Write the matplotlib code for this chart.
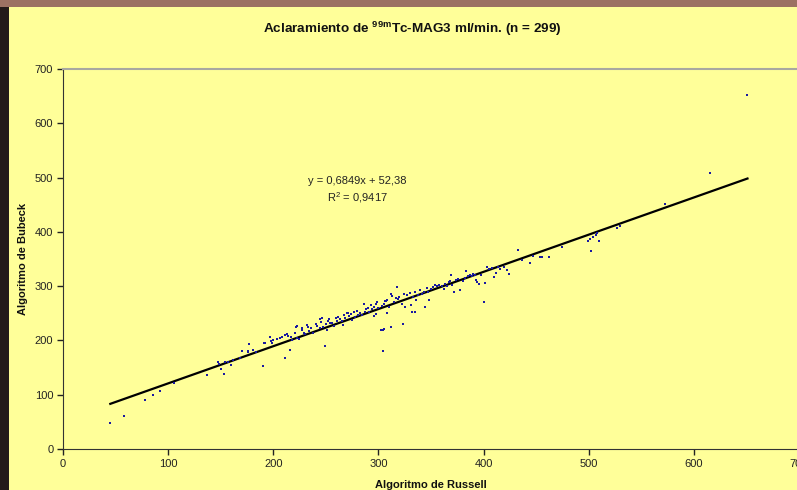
import matplotlib
matplotlib.use('Agg')
import matplotlib.pyplot as plt
from matplotlib.patches import Rectangle
import numpy as np

plt.rcParams['font.family'] = ['Liberation Sans', 'DejaVu Sans']
plt.rcParams['mathtext.fontset'] = 'custom'
plt.rcParams['mathtext.rm'] = 'Liberation Sans'
plt.rcParams['mathtext.bf'] = 'Liberation Sans:bold'

# Valores (Russell, Bubeck)
russell = [45, 58, 78, 86, 92, 106, 137, 147, 148, 150, 153, 154, 157, 160, 162,
           168, 170, 170, 176, 177, 176, 181, 184, 190, 191, 192, 197, 198, 199, 200,
           204, 206, 208, 211, 211, 213, 214, 216, 217, 218, 221, 222, 223, 223, 224,
           227, 227, 229, 230, 232, 233, 234, 236, 238, 241, 242, 244, 244, 245, 246,
           247, 249, 250, 251, 252, 253, 254, 256, 258, 260, 261, 262, 263, 265, 266,
           267, 268, 270, 271, 272, 274, 275, 277, 278, 280, 281, 282, 284, 286, 287,
           288, 290, 291, 293, 294, 296, 296, 298, 298, 299, 300, 302, 303, 304, 304,
           305, 305, 306, 307, 308, 308, 310, 312, 312, 313, 315, 317, 318, 319, 320,
           322, 323, 324, 325, 327, 330, 331, 332, 333, 335, 335, 336, 338, 340, 341,
           343, 344, 346, 347, 348, 350, 352, 354, 356, 358, 360, 362, 363, 365, 367,
           368, 369, 370, 372, 374, 376, 378, 380, 382, 383, 385, 387, 389, 390, 392,
           393, 394, 396, 398, 400, 401, 403, 405, 408, 410, 412, 414, 416, 419, 422,
           424, 433, 437, 444, 447, 454, 456, 462, 475, 499, 501, 502, 504, 507, 508,
           510, 527, 530, 573, 615, 651]
bubeck = [47, 61, 91, 100, 107, 121, 137, 160, 156, 148, 139, 161, 161, 155, 164,
          167, 180, 181, 179, 193, 180, 182, 178, 153, 195, 196, 206, 199, 195, 200,
          203, 205, 207, 167, 210, 211, 209, 183, 206, 200, 213, 225, 226, 205, 203,
          219, 222, 214, 212, 228, 225, 218, 222, 214, 231, 227, 240, 222, 234, 241,
          225, 190, 231, 219, 236, 239, 233, 232, 226, 242, 236, 244, 240, 236, 228,
          246, 242, 250, 250, 245, 249, 238, 253, 244, 255, 247, 251, 246, 268, 252,
          258, 260, 253, 266, 258, 262, 245, 268, 248, 270, 259, 220, 264, 181, 219,
          221, 268, 272, 273, 251, 274, 262, 225, 285, 282, 270, 278, 299, 276, 280,
          268, 231, 286, 262, 284, 287, 265, 252, 280, 290, 252, 275, 283, 293, 285,
          289, 262, 296, 290, 275, 294, 298, 302, 300, 303, 301, 295, 304, 300, 308,
          310, 321, 303, 290, 312, 313, 292, 310, 315, 328, 318, 320, 319, 322, 321,
          311, 308, 304, 320, 271, 306, 336, 332, 333, 317, 324, 336, 332, 335, 330,
          322, 367, 349, 343, 356, 354, 354, 354, 373, 384, 386, 365, 391, 394, 397,
          384, 408, 411, 451, 508, 652]

pendiente = 0.6849
ordenada = 52.38
ecuacion = 'y = 0,6849x + 52,38'
r2 = '0,9417'

amarillo = '#ffff99'

fig = plt.figure(figsize=(7.97, 4.90), dpi=100, facecolor=amarillo)

# borde de la foto (fondo detras de la grafica)
fig.patches.append(Rectangle((0, 0), 9 / 797, 1, transform=fig.transFigure,
                             facecolor='#231b1a', edgecolor='none', zorder=0))
fig.patches.append(Rectangle((0, 1 - 7 / 490), 1, 7 / 490, transform=fig.transFigure,
                             facecolor='#9c7263', edgecolor='none', zorder=0))

ax = fig.add_axes([63 / 797, 41 / 490, 736 / 797, 380 / 490])
ax.set_facecolor(amarillo)

ax.scatter(russell, bubeck, s=3.5, marker='s', color='#1a1aa0', linewidths=0, zorder=3)

xs = np.array([min(russell), max(russell)])
ax.plot(xs, pendiente * xs + ordenada, color='black', lw=1.6, zorder=2)

ax.set_xlim(0, 700)
ax.set_ylim(0, 700)
ax.set_xticks(range(0, 701, 100))
ax.set_yticks(range(0, 701, 100))
ax.tick_params(direction='out', length=4, width=1, labelsize=8, colors='#222222', pad=3)

ax.spines['top'].set_color('#a8a8a0')
ax.spines['top'].set_linewidth(1.5)
ax.spines['right'].set_visible(False)
ax.spines['left'].set_color('#333333')
ax.spines['bottom'].set_color('#333333')

ax.text(280, 493, ecuacion, ha='center', va='center', fontsize=8, color='#222222')
ax.text(280, 464, r'R$^2$ = ' + r2, ha='center', va='center', fontsize=8, color='#222222')

fig.text(0.517, 0.941, r'Aclaramiento de $\mathbf{^{99m}}$Tc-MAG3 ml/min. (n = 299)',
         ha='center', va='center', fontsize=9.7, fontweight='bold', color='#111111')
fig.text(431 / 797, 1 - 485 / 490, 'Algoritmo de Russell', ha='center', va='center',
         fontsize=8, fontweight='bold', color='#111111')
fig.text(23 / 797, 1 - 259 / 490, 'Algoritmo de Bubeck', ha='center', va='center',
         rotation=90, fontsize=8, fontweight='bold', color='#111111')

fig.savefig('out.png', dpi=100, facecolor=amarillo)
